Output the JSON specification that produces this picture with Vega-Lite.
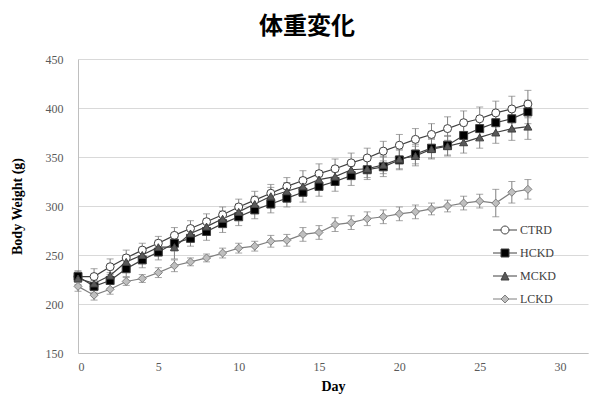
{
"$schema": "https://vega.github.io/schema/vega-lite/v6.json",
"width": 510, "height": 294,
"autosize": {"type": "none"},
"padding": {"left": 78, "top": 59, "right": 2, "bottom": 44},
"background": "white",
"title": {"text": "体重変化", "font": "Noto Sans CJK JP", "fontSize": 24, "fontWeight": "bold", "color": "#000000", "anchor": "middle", "dx": -26, "offset": 14},
"datasets": {"bw": [
{"d":0,"g":"CTRD","w":228,"lo":223,"hi":233},{"d":1,"g":"CTRD","w":228,"lo":220,"hi":236},{"d":2,"g":"CTRD","w":238,"lo":230,"hi":246},{"d":3,"g":"CTRD","w":247,"lo":239,"hi":255},{"d":4,"g":"CTRD","w":255,"lo":248,"hi":262},{"d":5,"g":"CTRD","w":262,"lo":255,"hi":269},{"d":6,"g":"CTRD","w":270,"lo":262,"hi":278},{"d":7,"g":"CTRD","w":277,"lo":269,"hi":285},{"d":8,"g":"CTRD","w":284,"lo":276,"hi":292},{"d":9,"g":"CTRD","w":291,"lo":283,"hi":299},{"d":10,"g":"CTRD","w":299,"lo":291,"hi":307},{"d":11,"g":"CTRD","w":306,"lo":297,"hi":315},{"d":12,"g":"CTRD","w":313,"lo":304,"hi":322},{"d":13,"g":"CTRD","w":320,"lo":311,"hi":329},{"d":14,"g":"CTRD","w":326,"lo":316,"hi":336},{"d":15,"g":"CTRD","w":333,"lo":323,"hi":343},{"d":16,"g":"CTRD","w":338,"lo":328,"hi":348},{"d":17,"g":"CTRD","w":344,"lo":334,"hi":354},{"d":18,"g":"CTRD","w":349,"lo":339,"hi":359},{"d":19,"g":"CTRD","w":356,"lo":346,"hi":366},{"d":20,"g":"CTRD","w":362,"lo":351,"hi":373},{"d":21,"g":"CTRD","w":368,"lo":357,"hi":379},{"d":22,"g":"CTRD","w":373,"lo":362,"hi":384},{"d":23,"g":"CTRD","w":379,"lo":367,"hi":391},{"d":24,"g":"CTRD","w":385,"lo":373,"hi":397},{"d":25,"g":"CTRD","w":389,"lo":377,"hi":401},{"d":26,"g":"CTRD","w":395,"lo":383,"hi":407},{"d":27,"g":"CTRD","w":399,"lo":386,"hi":412},{"d":28,"g":"CTRD","w":404,"lo":390,"hi":418},
{"d":0,"g":"HCKD","w":228,"lo":222,"hi":234},{"d":1,"g":"HCKD","w":218,"lo":212,"hi":224},{"d":2,"g":"HCKD","w":224,"lo":216,"hi":232},{"d":3,"g":"HCKD","w":236,"lo":228,"hi":244},{"d":4,"g":"HCKD","w":245,"lo":237,"hi":253},{"d":5,"g":"HCKD","w":253,"lo":245,"hi":261},{"d":6,"g":"HCKD","w":262,"lo":254,"hi":270},{"d":7,"g":"HCKD","w":267,"lo":259,"hi":275},{"d":8,"g":"HCKD","w":274,"lo":265,"hi":283},{"d":9,"g":"HCKD","w":282,"lo":273,"hi":291},{"d":10,"g":"HCKD","w":289,"lo":280,"hi":298},{"d":11,"g":"HCKD","w":296,"lo":287,"hi":305},{"d":12,"g":"HCKD","w":302,"lo":293,"hi":311},{"d":13,"g":"HCKD","w":308,"lo":299,"hi":317},{"d":14,"g":"HCKD","w":314,"lo":304,"hi":324},{"d":15,"g":"HCKD","w":320,"lo":310,"hi":330},{"d":16,"g":"HCKD","w":325,"lo":315,"hi":335},{"d":17,"g":"HCKD","w":331,"lo":321,"hi":341},{"d":18,"g":"HCKD","w":337,"lo":327,"hi":347},{"d":19,"g":"HCKD","w":340,"lo":330,"hi":350},{"d":20,"g":"HCKD","w":347,"lo":337,"hi":357},{"d":21,"g":"HCKD","w":353,"lo":343,"hi":363},{"d":22,"g":"HCKD","w":359,"lo":349,"hi":369},{"d":23,"g":"HCKD","w":362,"lo":352,"hi":372},{"d":24,"g":"HCKD","w":372,"lo":362,"hi":382},{"d":25,"g":"HCKD","w":379,"lo":368,"hi":390},{"d":26,"g":"HCKD","w":385,"lo":374,"hi":396},{"d":27,"g":"HCKD","w":389,"lo":378,"hi":400},{"d":28,"g":"HCKD","w":396,"lo":384,"hi":408},
{"d":0,"g":"MCKD","w":226,"lo":220,"hi":232},{"d":1,"g":"MCKD","w":221,"lo":214,"hi":228},{"d":2,"g":"MCKD","w":229,"lo":222,"hi":236},{"d":3,"g":"MCKD","w":243,"lo":236,"hi":250},{"d":4,"g":"MCKD","w":250,"lo":243,"hi":257},{"d":5,"g":"MCKD","w":258,"lo":251,"hi":265},{"d":6,"g":"MCKD","w":258,"lo":246,"hi":270},{"d":7,"g":"MCKD","w":272,"lo":264,"hi":280},{"d":8,"g":"MCKD","w":279,"lo":271,"hi":287},{"d":9,"g":"MCKD","w":287,"lo":279,"hi":295},{"d":10,"g":"MCKD","w":294,"lo":286,"hi":302},{"d":11,"g":"MCKD","w":302,"lo":294,"hi":310},{"d":12,"g":"MCKD","w":310,"lo":301,"hi":319},{"d":13,"g":"MCKD","w":315,"lo":306,"hi":324},{"d":14,"g":"MCKD","w":320,"lo":311,"hi":329},{"d":15,"g":"MCKD","w":327,"lo":318,"hi":336},{"d":16,"g":"MCKD","w":330,"lo":321,"hi":339},{"d":17,"g":"MCKD","w":337,"lo":328,"hi":346},{"d":18,"g":"MCKD","w":338,"lo":329,"hi":347},{"d":19,"g":"MCKD","w":342,"lo":333,"hi":351},{"d":20,"g":"MCKD","w":348,"lo":338,"hi":358},{"d":21,"g":"MCKD","w":351,"lo":341,"hi":361},{"d":22,"g":"MCKD","w":358,"lo":348,"hi":368},{"d":23,"g":"MCKD","w":361,"lo":351,"hi":371},{"d":24,"g":"MCKD","w":365,"lo":354,"hi":376},{"d":25,"g":"MCKD","w":370,"lo":359,"hi":381},{"d":26,"g":"MCKD","w":375,"lo":364,"hi":386},{"d":27,"g":"MCKD","w":379,"lo":367,"hi":391},{"d":28,"g":"MCKD","w":381,"lo":368,"hi":394},
{"d":0,"g":"LCKD","w":218,"lo":213,"hi":223},{"d":1,"g":"LCKD","w":209,"lo":204,"hi":214},{"d":2,"g":"LCKD","w":215,"lo":210,"hi":220},{"d":3,"g":"LCKD","w":223,"lo":219,"hi":227},{"d":4,"g":"LCKD","w":226,"lo":222,"hi":230},{"d":5,"g":"LCKD","w":232,"lo":227,"hi":237},{"d":6,"g":"LCKD","w":239,"lo":233,"hi":245},{"d":7,"g":"LCKD","w":243,"lo":239,"hi":247},{"d":8,"g":"LCKD","w":247,"lo":243,"hi":251},{"d":9,"g":"LCKD","w":252,"lo":247,"hi":257},{"d":10,"g":"LCKD","w":257,"lo":252,"hi":262},{"d":11,"g":"LCKD","w":259,"lo":254,"hi":264},{"d":12,"g":"LCKD","w":264,"lo":258,"hi":270},{"d":13,"g":"LCKD","w":265,"lo":259,"hi":271},{"d":14,"g":"LCKD","w":271,"lo":264,"hi":278},{"d":15,"g":"LCKD","w":273,"lo":266,"hi":280},{"d":16,"g":"LCKD","w":281,"lo":274,"hi":288},{"d":17,"g":"LCKD","w":283,"lo":276,"hi":290},{"d":18,"g":"LCKD","w":287,"lo":280,"hi":294},{"d":19,"g":"LCKD","w":289,"lo":282,"hi":296},{"d":20,"g":"LCKD","w":292,"lo":285,"hi":299},{"d":21,"g":"LCKD","w":294,"lo":287,"hi":301},{"d":22,"g":"LCKD","w":297,"lo":291,"hi":303},{"d":23,"g":"LCKD","w":300,"lo":294,"hi":306},{"d":24,"g":"LCKD","w":303,"lo":296,"hi":310},{"d":25,"g":"LCKD","w":305,"lo":298,"hi":312},{"d":26,"g":"LCKD","w":303,"lo":289,"hi":317},{"d":27,"g":"LCKD","w":314,"lo":303,"hi":325},{"d":28,"g":"LCKD","w":317,"lo":307,"hi":327}
]},
"data": {"name": "bw"},
"encoding": {
  "x": {"field": "d", "type": "quantitative", "title": "Day",
        "scale": {"domain": [0, 31.74], "nice": false, "zero": false},
        "axis": {"values": [0, 5, 10, 15, 20, 25, 30]}}
},
"resolve": {"scale": {"stroke": "independent", "fill": "independent", "shape": "independent"}},
"layer": [
  {"mark": {"type": "rule", "color": "#808080", "strokeWidth": 1},
   "encoding": {"y": {"field": "lo", "type": "quantitative", "title": "Body Weight (g)", "scale": {"domain": [150, 450], "nice": false, "zero": false}}, "y2": {"field": "hi"}}},
  {"mark": {"type": "tick", "orient": "horizontal", "size": 7, "thickness": 1, "color": "#808080"},
   "encoding": {"y": {"field": "lo", "type": "quantitative", "title": "Body Weight (g)"}}},
  {"mark": {"type": "tick", "orient": "horizontal", "size": 7, "thickness": 1, "color": "#808080"},
   "encoding": {"y": {"field": "hi", "type": "quantitative", "title": "Body Weight (g)"}}},
  {"mark": {"type": "line", "strokeWidth": 1.2},
   "encoding": {
     "y": {"field": "w", "type": "quantitative", "title": "Body Weight (g)"},
     "stroke": {"field": "g", "type": "nominal", "legend": null, "scale": {"domain": ["CTRD", "HCKD", "MCKD", "LCKD"], "range": ["#404040", "#404040", "#404040", "#7f7f7f"]}},
     "order": {"field": "d"}}},
  {"mark": {"type": "point", "size": 64, "opacity": 1, "strokeWidth": 1},
   "encoding": {
     "y": {"field": "w", "type": "quantitative", "title": "Body Weight (g)"},
     "stroke": {"field": "g", "type": "nominal", "legend": null, "scale": {"domain": ["CTRD", "HCKD", "MCKD", "LCKD"], "range": ["#404040", "#404040", "#404040", "#7f7f7f"]}},
     "fill": {"field": "g", "type": "nominal", "legend": null, "scale": {"domain": ["CTRD", "HCKD", "MCKD", "LCKD"], "range": ["#ffffff", "#000000", "#595959", "#bfbfbf"]}},
     "shape": {"field": "g", "type": "nominal", "legend": null, "scale": {"domain": ["CTRD", "HCKD", "MCKD", "LCKD"], "range": ["circle", "square", "triangle-up", "diamond"]}}}},
  {"transform": [{"filter": "datum.d < 0"}],
   "mark": {"type": "point", "size": 64, "opacity": 1, "strokeWidth": 1},
   "encoding": {
     "y": {"field": "w", "type": "quantitative", "title": "Body Weight (g)"},
     "stroke": {"field": "g", "type": "nominal", "scale": {"domain": ["CTRD", "HCKD", "MCKD", "LCKD"], "range": ["#404040", "#404040", "#404040", "#7f7f7f"]},
       "legend": {"orient": "none", "legendX": 421, "legendY": 165, "title": null, "padding": 0, "symbolSize": 64, "symbolStrokeWidth": 1, "labelFont": "Liberation Serif", "labelFontSize": 12, "labelColor": "#404040", "labelOffset": 9, "rowPadding": 11}},
     "fill": {"field": "g", "type": "nominal", "scale": {"domain": ["CTRD", "HCKD", "MCKD", "LCKD"], "range": ["#ffffff", "#000000", "#595959", "#bfbfbf"]},
       "legend": {"orient": "none", "legendX": 421, "legendY": 165, "title": null, "padding": 0, "symbolSize": 64, "symbolStrokeWidth": 1, "labelFont": "Liberation Serif", "labelFontSize": 12, "labelColor": "#404040", "labelOffset": 9, "rowPadding": 11}},
     "shape": {"field": "g", "type": "nominal",
       "scale": {"domain": ["CTRD", "HCKD", "MCKD", "LCKD"], "range": ["M-3,0H-1M1,0H3M-1,0A1,1 0 1,0 1,0A1,1 0 1,0 -1,0Z", "M-3,0H-1M1,0H3M-1,-1H1V1H-1Z", "M-3,0H-0.5M0.5,0H3M0,-1L1,1H-1Z", "M-3,0H-1M1,0H3M0,-1L1,0L0,1L-1,0Z"]},
       "legend": {"orient": "none", "legendX": 421, "legendY": 165, "title": null, "padding": 0, "symbolSize": 64, "symbolStrokeWidth": 1, "labelFont": "Liberation Serif", "labelFontSize": 12, "labelColor": "#404040", "labelOffset": 9, "rowPadding": 11}}}}
],
"config": {
  "view": {"stroke": null},
  "axis": {"labelFont": "Liberation Serif", "labelFontSize": 12, "labelColor": "#595959",
           "titleFont": "Liberation Serif", "titleFontSize": 14, "titleFontWeight": "bold", "titleColor": "#000000",
           "ticks": false, "domainColor": "#bfbfbf", "domainWidth": 1, "gridColor": "#d9d9d9", "gridWidth": 1, "grid": false},
  "axisY": {"grid": true, "labelPadding": 15, "titleX": -54, "titleY": 147, "tickCount": 6},
  "axisX": {"labelPadding": 8, "titlePadding": 7}
}
}
